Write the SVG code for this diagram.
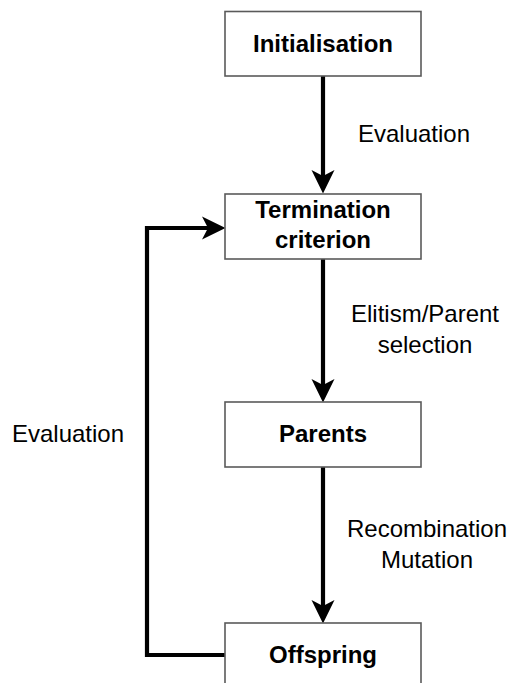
<svg xmlns="http://www.w3.org/2000/svg" width="511" height="683" viewBox="0 0 511 683">
  <style>
    .box { fill: #ffffff; stroke: #5a5a5a; stroke-width: 1.6; }
    .title { font-family: "Liberation Sans", Arial, sans-serif; font-size: 24px; font-weight: bold; fill: #000; text-anchor: middle; }
    .label { font-family: "Liberation Sans", Arial, sans-serif; font-size: 24px; fill: #000; text-anchor: middle; }
    .edge { fill: none; stroke: #000; stroke-width: 4.2; }
  </style>
  <defs>
    <marker id="arrow" markerUnits="userSpaceOnUse" markerWidth="24" markerHeight="24" viewBox="0 0 24 24" refX="6" refY="12" orient="auto">
      <path d="M0,0.5 L23.5,12 L0,23.5 L6,12 Z" fill="#000"/>
    </marker>
  </defs>
  <rect width="511" height="683" fill="#ffffff"/>

  <g id="connectors">
    <path class="edge" d="M323,76 V176" marker-end="url(#arrow)"/>
    <path class="edge" d="M323,259 V385" marker-end="url(#arrow)"/>
    <path class="edge" d="M323,467 V606" marker-end="url(#arrow)"/>
    <path class="edge" d="M225,655 H147 V228 H208" marker-end="url(#arrow)"/>
    <text class="label" x="414" y="142">Evaluation</text>
    <text class="label" x="425" y="322">Elitism/Parent</text>
    <text class="label" x="425" y="353">selection</text>
    <text class="label" x="427" y="537">Recombination</text>
    <text class="label" x="427" y="568">Mutation</text>
    <text class="label" x="68" y="442">Evaluation</text>
  </g>

  <g id="initialisation">
    <rect class="box" x="225" y="11.5" width="196" height="64.5"/>
    <text class="title" x="323" y="52">Initialisation</text>
  </g>
  <g id="termination">
    <rect class="box" x="225" y="194" width="196" height="65"/>
    <text class="title" x="323" y="218">Termination</text>
    <text class="title" x="323" y="248">criterion</text>
  </g>
  <g id="parents">
    <rect class="box" x="225" y="402" width="196" height="65"/>
    <text class="title" x="323" y="442">Parents</text>
  </g>
  <g id="offspring">
    <rect class="box" x="225" y="623" width="196" height="65"/>
    <text class="title" x="323" y="663">Offspring</text>
  </g>
</svg>
